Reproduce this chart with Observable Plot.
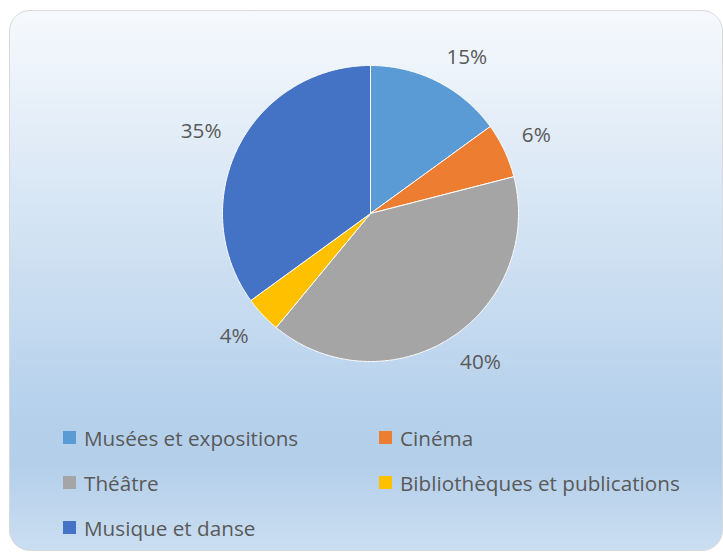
<!DOCTYPE html>
<html><head><meta charset="utf-8">
<script src="https://cdn.jsdelivr.net/npm/d3@7"></script>
<script src="https://cdn.jsdelivr.net/npm/@observablehq/plot@0.6"></script>
<style>
html,body{margin:0;padding:0;background:#fff;}
#chart{position:relative;width:723px;height:556px;overflow:hidden;font-family:"Open Sans",sans-serif;}
#bg{position:absolute;left:9px;top:10px;width:714px;height:541px;box-sizing:border-box;border:1.5px solid #d9d9d9;border-radius:21px;background:linear-gradient(to bottom,#f6f9fd 0%,#b4d0eb 76%,#b4cfea 84%,#cadef1 100%);}
#pie{position:absolute;left:0;top:0;}
.item{position:absolute;display:flex;align-items:center;height:20px;font-size:20.7px;line-height:20px;color:#595959;white-space:nowrap;}
.sw{width:13px;height:13px;margin-right:8px;flex:none;}
</style></head><body>
<div id="chart"><div id="bg"></div><div id="pie"></div><div id="legend"></div></div>
<script>
const categories = ["Musées et expositions", "Cinéma", "Théâtre", "Bibliothèques et publications", "Musique et danse"];
const values = [15, 6, 40, 4, 35];
const labels = ["15%", "6%", "40%", "4%", "35%"];
const colors = ["#5b9bd5", "#ed7d31", "#a5a5a5", "#ffc000", "#4472c4"];

const data = categories.map((c, i) => ({key: c, value: values[i], label: labels[i]}));
const arcs = d3.pie().sort(null).value(d => d.value)(data);

const sliceRows = [];
arcs.forEach(a => {
  const k = a.data.key;
  sliceRows.push({key: k, x: 0, y: 0});
  const n = Math.max(2, Math.ceil((a.endAngle - a.startAngle) / (Math.PI / 360)));
  for (let j = 0; j <= n; j++) {
    const t = a.startAngle + (a.endAngle - a.startAngle) * j / n;
    sliceRows.push({key: k, x: Math.sin(t), y: Math.cos(t)});
  }
  sliceRows.push({key: k, x: 0, y: 0});
});

const labelRows = arcs.map(a => {
  const m = (a.startAngle + a.endAngle) / 2;
  const r = 1.13;
  return {text: a.data.label, x: Math.sin(m) * r, y: Math.cos(m) * r, right: Math.sin(m) >= 0, upper: Math.cos(m) >= 0};
});

const R = 148, cx = 370, cy = 213;
const textMarks = [];
for (const right of [true, false]) for (const upper of [true, false]) {
  textMarks.push(Plot.text(labelRows.filter(d => d.right === right && d.upper === upper), {
    x: "x", y: "y", text: "text",
    textAnchor: right ? "start" : "end",
    lineAnchor: upper ? "bottom" : "top",
    fontSize: 20.7, fontFamily: "Open Sans", fill: "#595959"
  }));
}

const plot = Plot.plot({
  width: 723, height: 420,
  margin: 0,
  style: {background: "transparent", overflow: "visible"},
  x: {domain: [-1, 1], range: [cx - R, cx + R], axis: null},
  y: {domain: [-1, 1], range: [cy + R, cy - R], axis: null},
  color: {domain: categories, range: colors},
  marks: [
    Plot.line(sliceRows, {x: "x", y: "y", z: "key", fill: "key", stroke: "#ffffff", strokeWidth: 1, curve: "linear"}),
    ...textMarks
  ]
});
document.getElementById("pie").appendChild(plot);

const legend = document.getElementById("legend");
const colX = [63, 379], rowY = [427.5, 472.5, 517.5];
categories.forEach((c, i) => {
  const it = document.createElement("div");
  it.className = "item";
  it.style.left = colX[i % 2] + "px";
  it.style.top = rowY[Math.floor(i / 2)] + "px";
  const sw = document.createElement("span");
  sw.className = "sw";
  sw.style.background = colors[i];
  const tx = document.createElement("span");
  tx.textContent = c;
  it.appendChild(sw); it.appendChild(tx);
  legend.appendChild(it);
});
</script>
</body></html>
